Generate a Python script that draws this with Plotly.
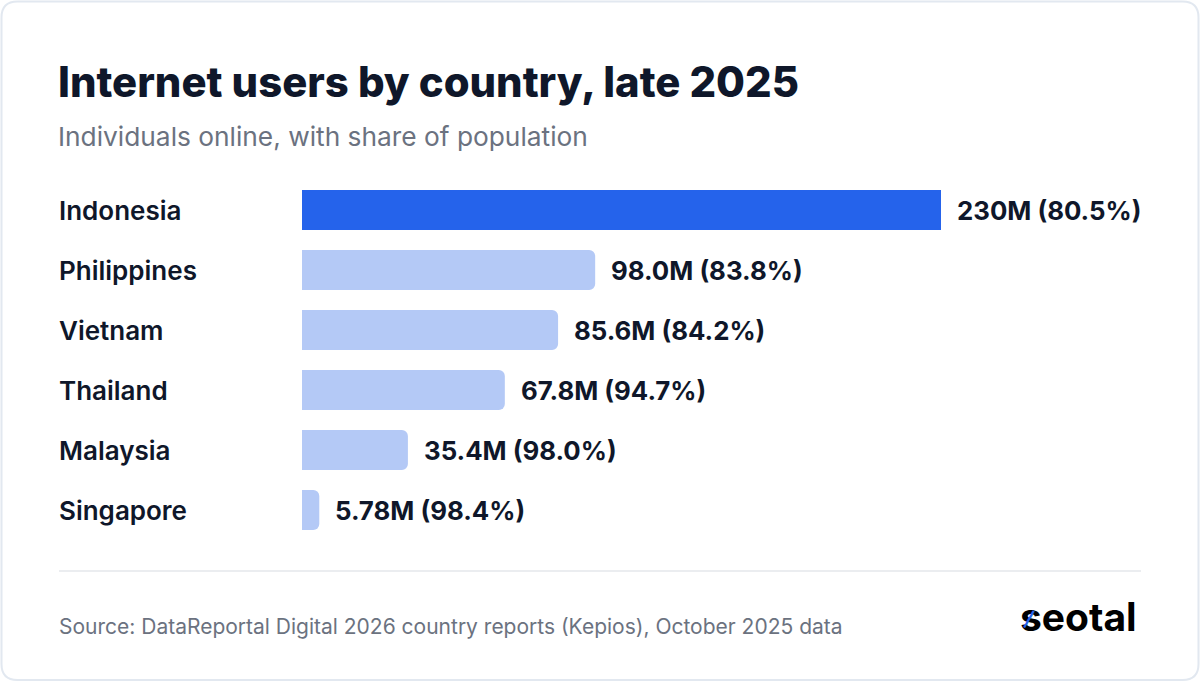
import plotly.graph_objects as go

# Data
countries = ["Indonesia", "Philippines", "Vietnam", "Thailand", "Malaysia", "Singapore"]
users_m = [230, 98.0, 85.6, 67.8, 35.4, 5.78]
user_labels = ["230M", "98.0M", "85.6M", "67.8M", "35.4M", "5.78M"]
share_pct = [80.5, 83.8, 84.2, 94.7, 98.0, 98.4]
highlight = "Indonesia"

# the original cuts its axis short, so the top bar runs up to the edge
x_max = 213.6

W, H = 1200, 682
DARK = "#0f172a"
GREY = "#6b7280"
BLUE = "#2563eb"
LIGHT = "#b4c9f6"


def px(x):
    return x / W


def py(y):
    return 1 - y / H


colors = [BLUE if c == highlight else LIGHT for c in countries]

bars = go.Bar(
    x=users_m,
    y=countries,
    orientation="h",
    marker=dict(color=colors, cornerradius=6, line=dict(width=0)),
    width=0.667,
    hoverinfo="skip",
)

fig = go.Figure(data=[bars])

annotations = []
# country names on the left
for c in countries:
    annotations.append(dict(
        x=px(57), xref="paper", y=c, yref="y",
        text=c, showarrow=False, xanchor="left", yanchor="middle",
        font=dict(family="Inter", size=26, color=DARK, weight=600),
    ))
# value labels right of each bar
for c, v, lab, s in zip(countries, users_m, user_labels, share_pct):
    annotations.append(dict(
        x=min(v, x_max), xref="x", y=c, yref="y",
        text="{} ({:.1f}%)".format(lab, s), showarrow=False,
        xanchor="left", yanchor="middle", xshift=14,
        font=dict(family="Inter", size=25.8, color=DARK, weight=700),
    ))

# title, subtitle, source, logo
annotations += [
    dict(x=px(56), y=py(82), xref="paper", yref="paper", xanchor="left", yanchor="middle",
         text="Internet users by country, late 2025", showarrow=False,
         font=dict(family="Inter", size=41.8, color=DARK, weight=800)),
    dict(x=px(56), y=py(136), xref="paper", yref="paper", xanchor="left", yanchor="middle",
         text="Individuals online, with share of population", showarrow=False,
         font=dict(family="Inter", size=26.3, color=GREY)),
    dict(x=px(57), y=py(626), xref="paper", yref="paper", xanchor="left", yanchor="middle",
         text="Source: DataReportal Digital 2026 country reports (Kepios), October 2025 data",
         showarrow=False, font=dict(family="Inter", size=21, color=GREY)),
    dict(x=px(1139), y=py(616), xref="paper", yref="paper", xanchor="right", yanchor="middle",
         text="seotal", showarrow=False,
         font=dict(family="Inter", size=39, color="#000000", weight=700)),
    # blue slash across the "s" of the logo
    dict(x=px(1029), y=py(619), xref="paper", yref="paper", xanchor="center", yanchor="middle",
         text="|", showarrow=False, textangle=30,
         font=dict(family="Inter", size=16, color=BLUE, weight=700)),
]

# card outline with rounded corners
x0, x1, y0, y1, r = 1.5, 1198.5, 1.5, 680, 16
rx, ry = r / W, r / H
card = ("M {a},{t} L {b},{t} Q {R},{t} {R},{t2} L {R},{b2} Q {R},{B} {b},{B} "
        "L {a},{B} Q {L},{B} {L},{b2} L {L},{t2} Q {L},{t} {a},{t} Z").format(
    a=px(x0) + rx, b=px(x1) - rx, L=px(x0), R=px(x1),
    t=py(y0), t2=py(y0) - ry, B=py(y1), b2=py(y1) + ry)

shapes = [
    dict(type="path", path=card, xref="paper", yref="paper",
         line=dict(color="#e2e8f0", width=2), fillcolor="rgba(0,0,0,0)", layer="below"),
    dict(type="line", xref="paper", yref="paper", x0=px(59), x1=px(1141), y0=py(571), y1=py(571),
         line=dict(color="#e5e7eb", width=1.5)),
]

fig.update_layout(
    width=W, height=H,
    margin=dict(l=0, r=0, t=0, b=0),
    paper_bgcolor="white", plot_bgcolor="white",
    showlegend=False,
    bargap=0.333,
    xaxis=dict(domain=[px(302), px(941)], range=[0, x_max], visible=False, fixedrange=True),
    yaxis=dict(domain=[py(540), py(180)], categoryorder="array", categoryarray=countries,
               autorange="reversed", visible=False, fixedrange=True),
    annotations=annotations,
    shapes=shapes,
)

# drop the page's default body margin so the card sits flush in the window
fig.write_html("out.html", config={"displayModeBar": False},
               post_script="document.body.style.margin='0';")
